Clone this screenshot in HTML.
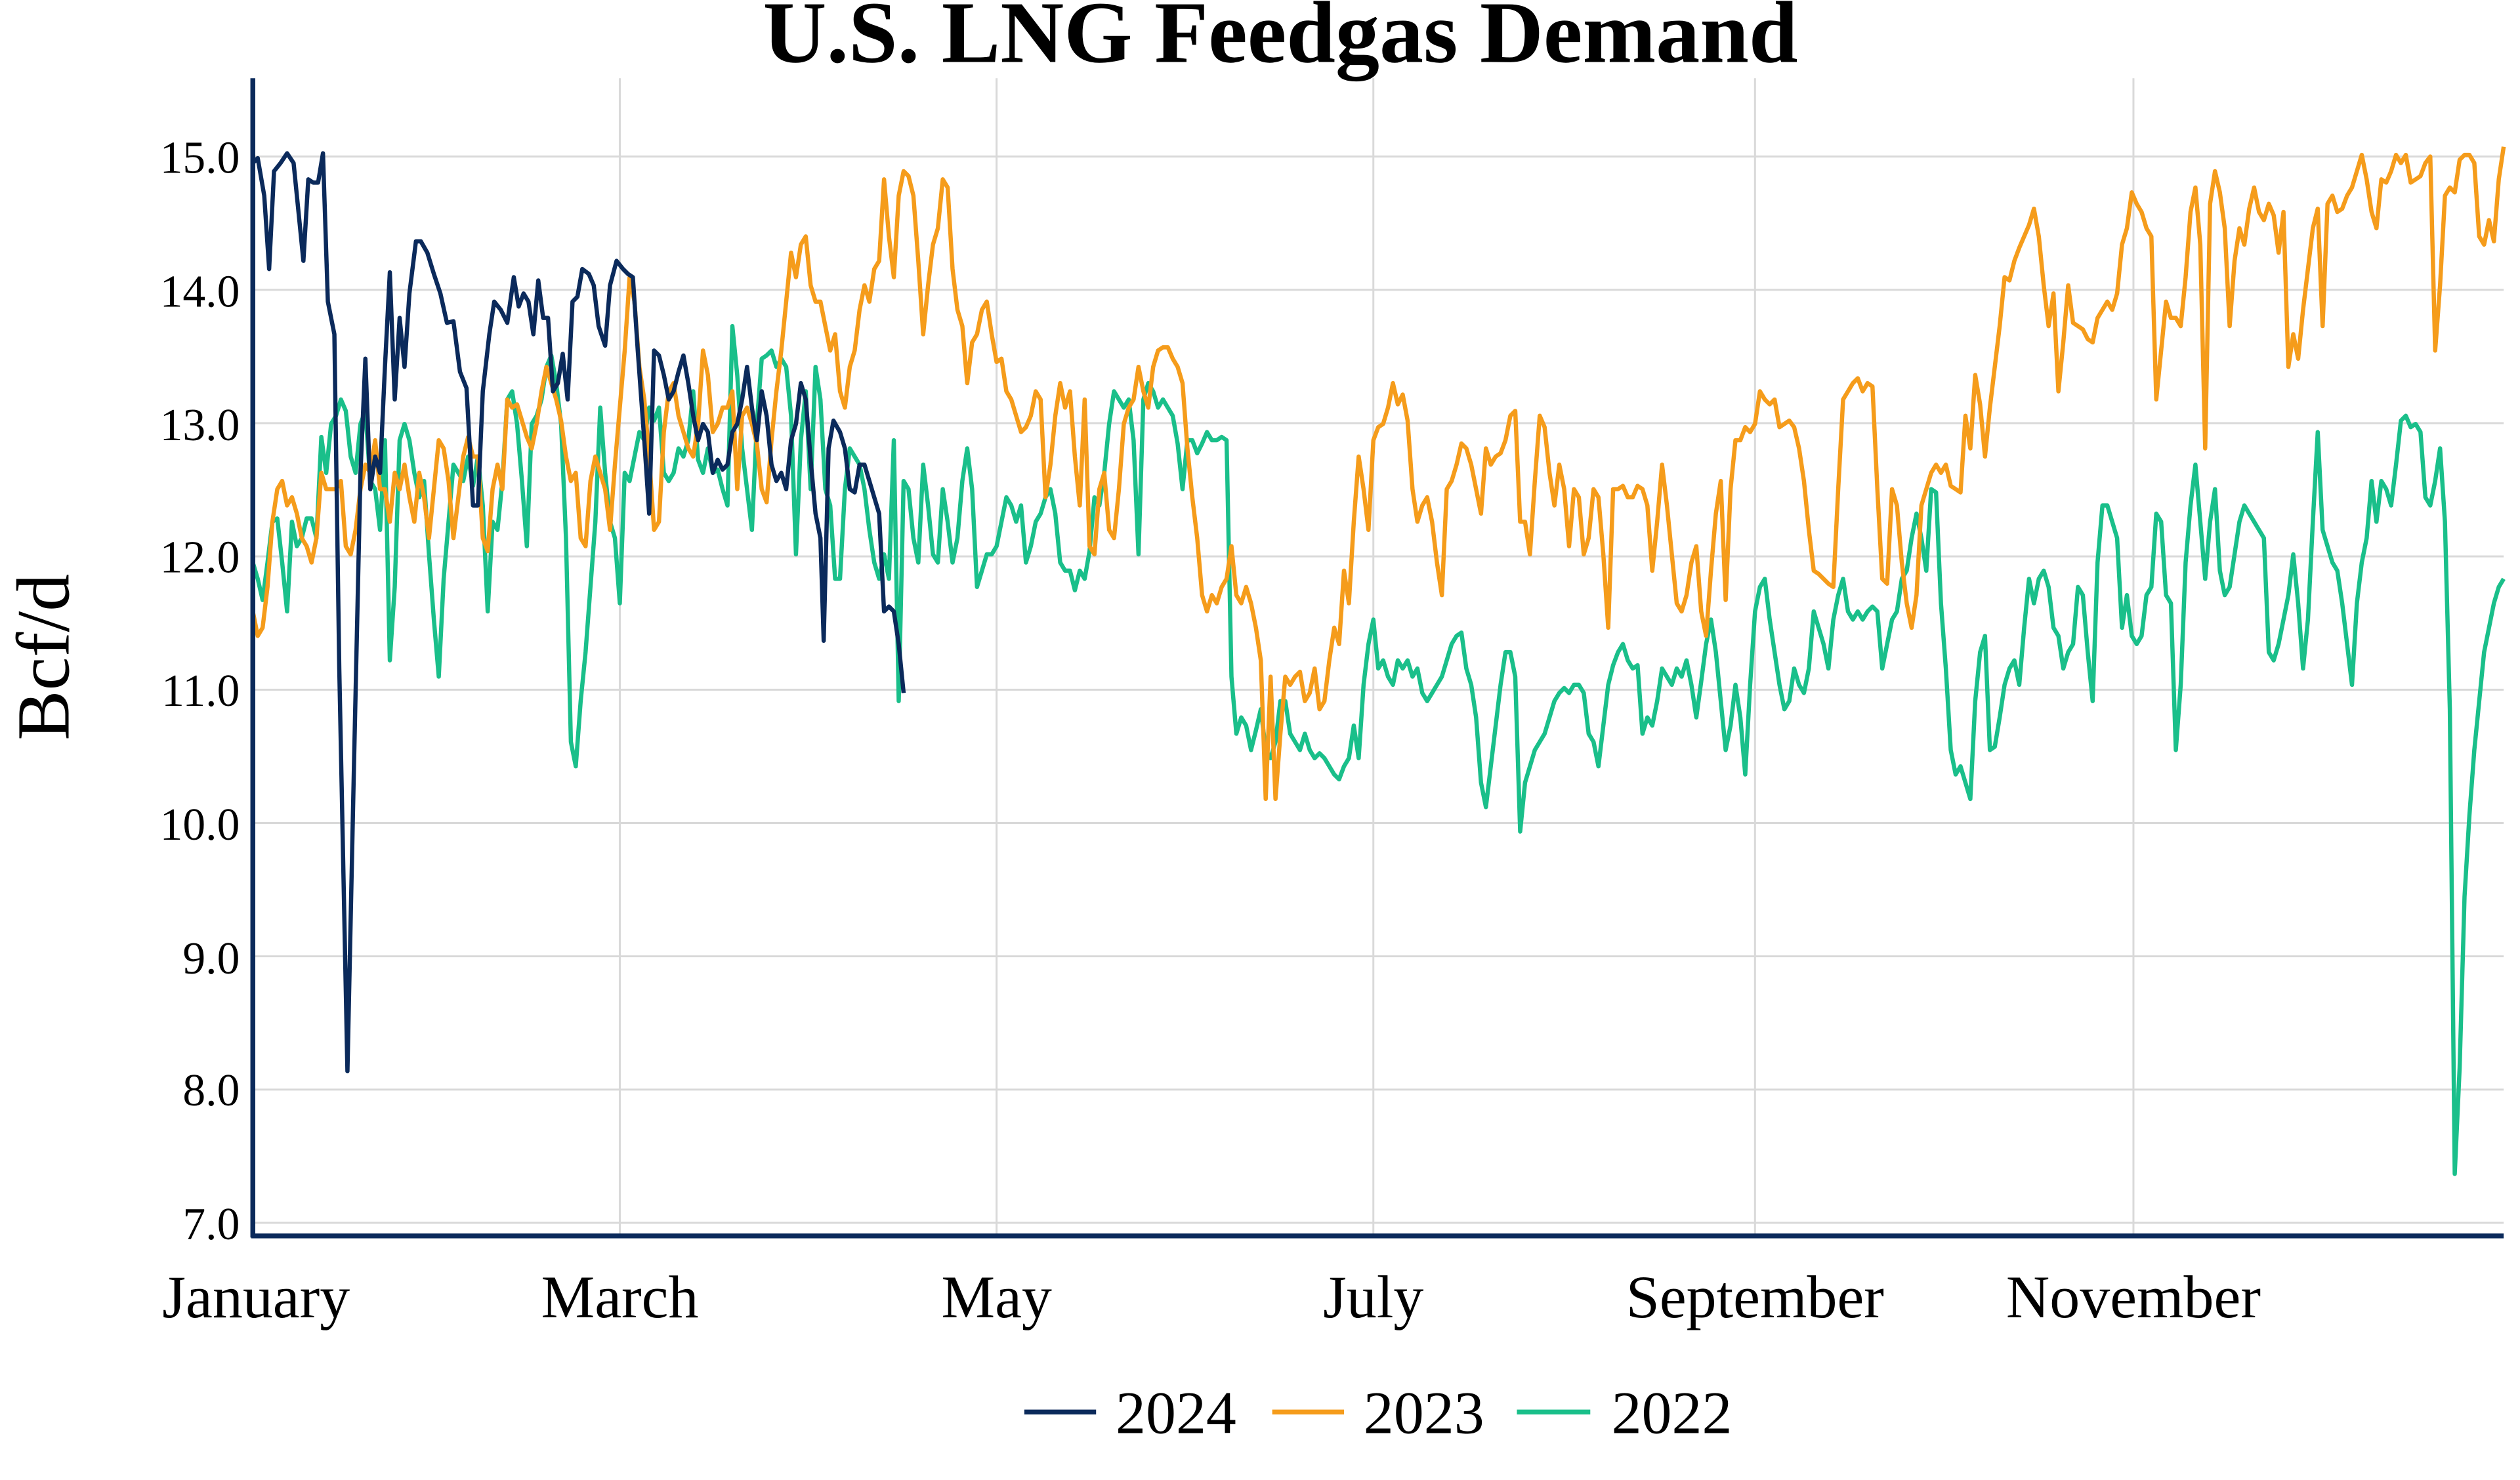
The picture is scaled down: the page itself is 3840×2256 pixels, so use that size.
<!DOCTYPE html>
<html><head><meta charset="utf-8"><style>html,body{margin:0;padding:0;background:#fff}svg{display:block}</style></head>
<body>
<svg width="3840" height="2256" viewBox="0 0 1545 907.7" xmlns="http://www.w3.org/2000/svg" font-family="'Liberation Serif',serif">
<rect width="1545" height="908" fill="#fff"/>
<g stroke="#d9d9d9" stroke-width="1.2">
<line x1="155" x2="1535" y1="96" y2="96"/><line x1="155" x2="1535" y1="177.75" y2="177.75"/><line x1="155" x2="1535" y1="259.5" y2="259.5"/><line x1="155" x2="1535" y1="341.25" y2="341.25"/><line x1="155" x2="1535" y1="423" y2="423"/><line x1="155" x2="1535" y1="504.75" y2="504.75"/><line x1="155" x2="1535" y1="586.5" y2="586.5"/><line x1="155" x2="1535" y1="668.25" y2="668.25"/><line x1="155" x2="1535" y1="750" y2="750"/>
<line x1="380" x2="380" y1="48" y2="758"/><line x1="611" x2="611" y1="48" y2="758"/><line x1="842" x2="842" y1="48" y2="758"/><line x1="1076" x2="1076" y1="48" y2="758"/><line x1="1308" x2="1308" y1="48" y2="758"/>
</g>
<g font-size="28" fill="#000" text-anchor="end">
<text x="147" y="106">15.0</text><text x="147" y="188">14.0</text><text x="147" y="270">13.0</text><text x="147" y="351">12.0</text><text x="147" y="433">11.0</text><text x="147" y="515">10.0</text><text x="147" y="597">9.0</text><text x="147" y="678">8.0</text><text x="147" y="760">7.0</text>
</g>
<g font-size="37" fill="#000" text-anchor="middle">
<text x="157" y="808">January</text><text x="380" y="808">March</text><text x="611" y="808">May</text><text x="842" y="808">July</text><text x="1076" y="808">September</text><text x="1308" y="808">November</text>
</g>
<text x="785" y="38" font-size="54" font-weight="bold" text-anchor="middle">U.S. LNG Feedgas Demand</text>
<text transform="translate(42,403) rotate(-90)" font-size="46" text-anchor="middle">Bcf/d</text>
<g fill="none" stroke-width="2.6" stroke-linejoin="round">
<polyline stroke="#1abf8a" points="155,345 158,355 161,368 164,345 167,320 170,318 173,345 176,375 179,320 182,335 185,330 188,318 191,318 194,330 197,268 200,290 203,260 206,255 209,245 212,252 215,280 218,290 221,260 224,252 227,295 230,300 233,325 236,270 239,405 242,360 245,270 248,260 251,270 254,290 257,305 260,295 263,340 266,380 269,415 272,355 275,320 278,285 281,290 284,295 287,280 290,298 293,280 296,310 299,375 302,320 305,325 308,295 311,245 314,240 317,260 320,295 323,335 326,260 329,255 332,245 335,225 338,218 341,235 344,260 347,330 350,455 353,470 356,430 359,400 362,360 365,320 368,250 371,290 374,320 377,330 380,370 383,290 386,295 389,280 392,265 395,270 398,250 401,258 404,250 407,290 410,295 413,290 416,275 419,280 422,270 425,240 428,282 431,290 434,275 437,290 440,288 443,300 446,310 449,200 452,230 455,275 458,300 461,325 464,260 467,220 470,218 473,215 476,225 479,220 482,225 485,255 488,340 491,270 494,240 497,300 500,225 503,245 506,300 509,310 512,355 515,355 518,300 521,275 524,280 527,285 530,300 533,325 536,345 539,355 542,340 545,355 548,270 551,430 554,295 557,300 560,330 563,345 566,285 569,310 572,340 575,345 578,300 581,320 584,345 587,330 590,295 593,275 596,300 599,360 602,350 605,340 608,340 611,335 614,320 617,305 620,310 623,320 626,310 629,345 632,335 635,320 638,315 641,305 644,300 647,315 650,345 653,350 656,350 659,362 662,350 665,355 668,338 671,305 674,310 677,290 680,260 683,240 686,245 689,250 692,245 695,270 698,340 701,245 704,235 707,240 710,250 713,245 716,250 719,255 722,272 725,300 728,270 731,270 734,278 737,272 740,265 743,270 746,270 749,268 752,270 755,415 758,450 761,440 764,445 767,460 770,448 773,435 776,460 779,465 782,455 785,430 788,430 791,450 794,455 797,460 800,450 803,460 806,465 809,462 812,465 815,470 818,475 821,478 824,470 827,465 830,445 833,465 836,420 839,395 842,380 845,410 848,405 851,415 854,420 857,405 860,410 863,405 866,415 869,410 872,425 875,430 878,425 881,420 884,415 887,405 890,395 893,390 896,388 899,410 902,420 905,440 908,480 911,495 914,470 917,445 920,420 923,400 926,400 929,415 932,510 935,480 938,470 941,460 944,455 947,450 950,440 953,430 956,425 959,422 962,425 965,420 968,420 971,425 974,450 977,455 980,470 983,445 986,420 989,408 992,400 995,395 998,405 1001,410 1004,408 1007,450 1010,440 1013,445 1016,430 1019,410 1022,415 1025,420 1028,410 1031,415 1034,405 1037,420 1040,440 1043,418 1046,395 1049,380 1052,400 1055,430 1058,460 1061,445 1064,420 1067,440 1070,475 1073,420 1076,375 1079,360 1082,355 1085,380 1088,400 1091,420 1094,435 1097,430 1100,410 1103,420 1106,425 1109,410 1112,375 1115,385 1118,395 1121,410 1124,380 1127,365 1130,355 1133,375 1136,380 1139,375 1142,380 1145,375 1148,372 1151,375 1154,410 1157,395 1160,380 1163,375 1166,355 1169,350 1172,330 1175,315 1178,330 1181,350 1184,300 1187,302 1190,370 1193,410 1196,460 1199,475 1202,470 1205,480 1208,490 1211,430 1214,400 1217,390 1220,460 1223,458 1226,440 1229,420 1232,410 1235,405 1238,420 1241,385 1244,355 1247,370 1250,355 1253,350 1256,360 1259,385 1262,390 1265,410 1268,400 1271,395 1274,360 1277,365 1280,400 1283,430 1286,345 1289,310 1292,310 1295,320 1298,330 1301,385 1304,365 1307,390 1310,395 1313,390 1316,365 1319,360 1322,315 1325,320 1328,365 1331,370 1334,460 1337,420 1340,345 1343,310 1346,285 1349,320 1352,355 1355,320 1358,300 1361,350 1364,365 1367,360 1370,340 1373,320 1376,310 1379,315 1382,320 1385,325 1388,330 1391,400 1394,405 1397,395 1400,380 1403,365 1406,340 1409,370 1412,410 1415,380 1418,320 1421,265 1424,325 1427,335 1430,345 1433,350 1436,370 1439,395 1442,420 1445,370 1448,345 1451,330 1454,295 1457,320 1460,295 1463,300 1466,310 1469,285 1472,258 1475,255 1478,262 1481,260 1484,265 1487,305 1490,310 1493,295 1496,275 1499,320 1502,435 1505,720 1508,655 1511,550 1514,500 1517,460 1520,430 1523,400 1526,385 1529,370 1532,360 1535,355"/>
<polyline stroke="#f59c1b" points="155,375 158,390 161,385 164,360 167,320 170,300 173,295 176,310 179,305 182,315 185,330 188,335 191,345 194,330 197,290 200,300 203,300 206,300 209,295 212,335 215,340 218,325 221,300 224,285 227,290 230,270 233,300 236,300 239,320 242,290 245,300 248,285 251,305 254,320 257,290 260,305 263,330 266,300 269,270 272,275 275,295 278,330 281,305 284,280 287,268 290,280 293,280 296,330 299,338 302,300 305,285 308,300 311,245 314,250 317,248 320,258 323,268 326,275 329,260 332,240 335,225 338,235 341,245 344,258 347,280 350,295 353,290 356,330 359,335 362,295 365,280 368,290 371,300 374,325 377,285 380,250 383,215 386,170 389,185 392,225 395,245 398,280 401,325 404,320 407,265 410,240 413,235 416,255 419,265 422,275 425,280 428,260 431,215 434,230 437,265 440,260 443,250 446,250 449,240 452,300 455,255 458,250 461,260 464,272 467,300 470,308 473,270 476,240 479,215 482,185 485,155 488,170 491,150 494,145 497,175 500,185 503,185 506,200 509,215 512,205 515,240 518,250 521,225 524,215 527,190 530,175 533,185 536,165 539,160 542,110 545,145 548,170 551,120 554,105 557,108 560,120 563,160 566,205 569,175 572,150 575,140 578,110 581,115 584,165 587,190 590,200 593,235 596,210 599,205 602,190 605,185 608,205 611,222 614,220 617,240 620,245 623,255 626,265 629,262 632,255 635,240 638,245 641,305 644,285 647,255 650,235 653,250 656,240 659,280 662,310 665,245 668,335 671,340 674,300 677,290 680,325 683,330 686,300 689,260 692,250 695,245 698,225 701,240 704,250 707,225 710,215 713,213 716,213 719,220 722,225 725,235 728,275 731,305 734,330 737,365 740,375 743,365 746,370 749,360 752,355 755,335 758,365 761,370 764,360 767,370 770,385 773,405 776,490 779,415 782,490 785,450 788,415 791,420 794,415 797,412 800,430 803,425 806,410 809,435 812,430 815,405 818,385 821,395 824,350 827,370 830,320 833,280 836,300 839,325 842,270 845,262 848,260 851,250 854,235 857,248 860,242 863,258 866,300 869,320 872,310 875,305 878,320 881,345 884,365 887,300 890,295 893,285 896,272 899,275 902,285 905,300 908,315 911,275 914,285 917,280 920,278 923,270 926,255 929,252 932,320 935,320 938,340 941,295 944,255 947,262 950,290 953,310 956,285 959,300 962,335 965,300 968,305 971,340 974,330 977,300 980,305 983,340 986,385 989,300 992,300 995,298 998,305 1001,305 1004,298 1007,300 1010,310 1013,350 1016,320 1019,285 1022,310 1025,340 1028,370 1031,375 1034,365 1037,345 1040,335 1043,375 1046,390 1049,350 1052,315 1055,295 1058,368 1061,300 1064,270 1067,270 1070,262 1073,265 1076,260 1079,240 1082,245 1085,248 1088,245 1091,262 1094,260 1097,258 1100,262 1103,275 1106,295 1109,325 1112,350 1115,352 1118,355 1121,358 1124,360 1127,300 1130,245 1133,240 1136,235 1139,232 1142,240 1145,235 1148,237 1151,300 1154,355 1157,358 1160,300 1163,310 1166,345 1169,370 1172,385 1175,365 1178,310 1181,300 1184,290 1187,285 1190,290 1193,285 1196,298 1199,300 1202,302 1205,255 1208,275 1211,230 1214,248 1217,280 1220,250 1223,225 1226,200 1229,170 1232,172 1235,160 1238,152 1241,145 1244,138 1247,128 1250,145 1253,175 1256,200 1259,180 1262,240 1265,210 1268,175 1271,198 1274,200 1277,202 1280,208 1283,210 1286,195 1289,190 1292,185 1295,190 1298,180 1301,150 1304,140 1307,118 1310,125 1313,130 1316,140 1319,145 1322,245 1325,215 1328,185 1331,195 1334,195 1337,200 1340,170 1343,130 1346,115 1349,150 1352,275 1355,125 1358,105 1361,118 1364,140 1367,200 1370,160 1373,140 1376,150 1379,128 1382,115 1385,130 1388,135 1391,125 1394,132 1397,155 1400,130 1403,225 1406,205 1409,220 1412,190 1415,165 1418,140 1421,128 1424,200 1427,125 1430,120 1433,130 1436,128 1439,120 1442,115 1445,105 1448,95 1451,110 1454,130 1457,140 1460,110 1463,112 1466,105 1469,95 1472,100 1475,95 1478,112 1481,110 1484,108 1487,100 1490,96 1493,215 1496,175 1499,120 1502,115 1505,118 1508,98 1511,95 1514,95 1517,100 1520,145 1523,150 1526,135 1529,148 1532,110 1535,90"/>
<polyline stroke="#0b2a5b" points="155,100 158,97 162,120 165,165 168,105 172,100 176,94 180,100 183,130 186,160 189,110 192,112 195,112 198,94 201,185 205,205 208,410 213,657 217,470 221,290 224,220 227,300 230,280 233,290 236,225 239,167 242,245 245,195 248,225 251,180 255,148 258,148 262,155 266,168 270,180 274,198 278,197 282,228 286,238 290,310 293,310 296,240 300,205 303,185 307,190 311,198 315,170 318,188 321,180 324,185 327,205 330,172 333,195 336,195 339,240 342,235 345,217 348,245 351,185 354,182 357,165 361,168 364,175 367,200 371,212 374,175 378,160 382,165 385,168 388,170 391,215 395,270 398,315 401,215 404,218 407,230 410,245 413,240 416,228 419,218 422,235 425,255 428,270 431,260 434,265 437,290 440,282 443,288 446,285 449,265 452,260 455,245 458,225 461,250 464,270 467,240 470,255 473,285 476,295 479,290 482,300 485,270 488,260 491,235 494,245 497,282 500,315 503,330 505,393 508,275 511,258 515,265 518,275 521,300 524,302 527,285 530,285 533,295 536,305 539,315 542,375 545,372 548,375 551,395 554,425"/>
</g>
<g stroke="#0b2a5b" stroke-width="3" fill="none">
<line x1="155" y1="48" x2="155" y2="759"/><line x1="154" y1="758" x2="1535" y2="758"/>
</g>
<g stroke-width="3">
<line x1="628" x2="672" y1="866" y2="866" stroke="#0b2a5b"/>
<line x1="780" x2="824" y1="866" y2="866" stroke="#f59c1b"/>
<line x1="930" x2="975" y1="866" y2="866" stroke="#1abf8a"/>
</g>
<g font-size="37" fill="#000">
<text x="684" y="879">2024</text><text x="836" y="879">2023</text><text x="988" y="879">2022</text>
</g>
</svg>
</body></html>
